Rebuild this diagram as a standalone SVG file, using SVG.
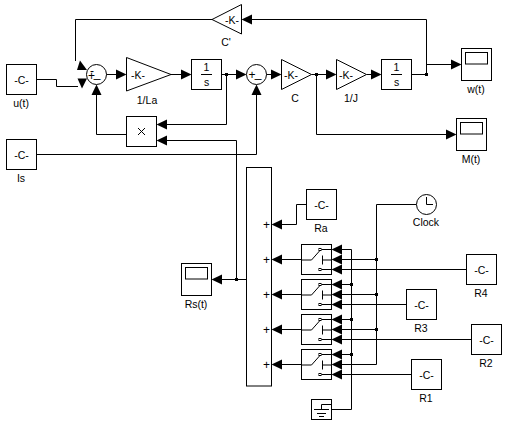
<svg xmlns="http://www.w3.org/2000/svg" width="518" height="424" viewBox="0 0 518 424">
<style>
.b{fill:#fff;stroke:#000;stroke-width:1}
.n{fill:none;stroke:#000;stroke-width:1}
.t{font-family:"Liberation Sans",Arial,sans-serif;font-size:10.500px;fill:#000;text-anchor:middle}
.s{font-size:12px}
.a{fill:#000;stroke:none}
</style>
<defs>
<path id="ar" class="a" d="M0.500 0L-10-5V5Z"/>
<path id="al" class="a" d="M-0.500 0L10-5V5Z"/>
<path id="au" class="a" d="M0 -0.500L-5 10H5Z"/>
<g id="scope"><rect class="b" x="0" y="0" width="30" height="32"/><rect class="n" x="4" y="4" width="22" height="11.500"/></g>
<g id="sw"><rect class="b" x="0" y="0" width="30" height="30"/><path class="n" d="M0 15.500H10L18 6.500M20 5H30M20 25H30M21 11V20M21 15.500H30"/><rect class="b" x="17.500" y="4" width="2" height="2"/><rect class="b" x="17.500" y="24" width="2" height="2"/></g>
</defs>
<g id="connectors" fill="none" stroke="#000">
<path class="n" d="M212 19.500H75.500V61"/>
<path class="n" d="M36.500 79.500H56.500V86.500H78"/>
<path class="n" d="M106 74.500H117M171 74.500H182M221.500 74.500H237M226.500 74.500V124.500H166"/>
<path class="n" d="M266 74.500H272M311.500 74.500H327M366.500 74.500H372M411.500 74.500H426.500M426.500 74.500V19.500H250M426.500 64.500H452"/>
<path class="n" d="M316.500 74.500V134.500H447"/>
<path class="n" d="M126.500 134.500H96.500V94"/>
<path class="n" d="M166 140.500H236.500V279.500"/>
<path class="n" d="M36.500 154.500H256.500V94"/>
<path class="n" d="M246.500 279.500H221"/>
<path class="n" d="M306.500 204.500H296.500V224.500H281"/>
<path class="n" d="M301.500 259.500H281M301.500 294.500H281M301.500 329.500H281M301.500 364.500H281"/>
<path class="n" d="M331.500 409.500H351.500V249.500H340M351.500 284.500H340M351.500 319.500H340M351.500 354.500H340"/>
<path class="n" d="M416.500 204.500H376.500V364.500H340M376.500 259.500H340M376.500 294.500H340M376.500 329.500H340"/>
<path class="n" d="M466.500 269.500H340M406.500 304.500H340M471.500 339.500H340M411.500 374.500H340"/>
<rect class="a" x="225" y="73" width="3" height="3"/><rect class="a" x="315" y="73" width="3" height="3"/><rect class="a" x="425" y="73" width="3" height="3"/>
<rect class="a" x="235" y="278" width="3" height="3"/>
<rect class="a" x="350" y="283" width="3" height="3"/><rect class="a" x="350" y="318" width="3" height="3"/><rect class="a" x="350" y="353" width="3" height="3"/>
<rect class="a" x="375" y="258" width="3" height="3"/><rect class="a" x="375" y="293" width="3" height="3"/><rect class="a" x="375" y="328" width="3" height="3"/>
<path class="a" d="M80 60.500L77 70H87Z"/>
<path class="a" d="M77.500 78.500H87L82 88.500Z"/>
<use href="#au" x="96.500" y="85"/>
<use href="#ar" x="126" y="74.500"/><use href="#ar" x="191" y="74.500"/><use href="#ar" x="246" y="74.500"/>
<use href="#al" x="157" y="124.500"/><use href="#al" x="157" y="140.500"/>
<use href="#au" x="256.500" y="85"/>
<use href="#ar" x="281" y="74.500"/><use href="#ar" x="336" y="74.500"/><use href="#ar" x="381" y="74.500"/>
<use href="#al" x="242" y="19.500"/>
<use href="#ar" x="461" y="64.500"/><use href="#ar" x="456" y="134.500"/>
<use href="#al" x="212" y="279.500"/>
<use href="#al" x="272" y="224.500"/><use href="#al" x="272" y="259.500"/><use href="#al" x="272" y="294.500"/><use href="#al" x="272" y="329.500"/><use href="#al" x="272" y="364.500"/>
<use href="#al" x="332" y="249.500"/><use href="#al" x="332" y="259.500"/><use href="#al" x="332" y="269.500"/>
<use href="#al" x="332" y="284.500"/><use href="#al" x="332" y="294.500"/><use href="#al" x="332" y="304.500"/>
<use href="#al" x="332" y="319.500"/><use href="#al" x="332" y="329.500"/><use href="#al" x="332" y="339.500"/>
<use href="#al" x="332" y="354.500"/><use href="#al" x="332" y="364.500"/><use href="#al" x="332" y="374.500"/>
</g>
<g id="ut"><rect class="b" x="6.500" y="64.500" width="30" height="30"/><text class="t" x="21.500" y="83.500">-C-</text><text class="t" x="21" y="107">u(t)</text></g>
<g id="is"><rect class="b" x="6.500" y="139.500" width="30" height="30"/><text class="t" x="21.500" y="158.500">-C-</text><text class="t" x="21" y="182">Is</text></g>
<g id="sum1"><circle class="b" cx="96.500" cy="74.500" r="10"/><text class="t s" x="92" y="75">-<tspan x="91.500" y="80">+</tspan><tspan x="97" y="77">_</tspan></text></g>
<g id="gain-la"><path class="b" d="M126.500 57.500V91L171 74.500Z"/><text class="t" x="138" y="78.500">-K-</text><text class="t" x="147" y="104">1/La</text></g>
<g id="int1"><rect class="b" x="191.500" y="59.500" width="30" height="30"/><path class="n" d="M201 74.500H212"/><text class="t" x="206.500" y="71">1</text><text class="t" x="206.500" y="86">s</text></g>
<g id="product"><rect class="b" x="126.500" y="116.500" width="30" height="30"/><path class="n" d="M138 128L145 135M145 128L138 135"/></g>
<g id="gain-c-prime"><path class="b" d="M241.500 4.500V34L212 19.500Z"/><text class="t" x="232" y="23.500">-K-</text><text class="t" x="226" y="46">C'</text></g>
<g id="sum2"><circle class="b" cx="256.500" cy="74.500" r="10"/><text class="t s" x="252" y="79">+<tspan x="258" y="77">_</tspan></text></g>
<g id="gain-c"><path class="b" d="M281.500 59.500V89.500L311.500 74.500Z"/><text class="t" x="291" y="78.500">-K-</text><text class="t" x="295" y="101.500">C</text></g>
<g id="gain-j"><path class="b" d="M336.500 59.500V89.500L366.500 74.500Z"/><text class="t" x="346" y="78.500">-K-</text><text class="t" x="351" y="101.500">1/J</text></g>
<g id="int2"><rect class="b" x="381.500" y="59.500" width="30" height="30"/><path class="n" d="M391 74.500H402"/><text class="t" x="396.500" y="71">1</text><text class="t" x="396.500" y="86">s</text></g>
<g id="w"><use href="#scope" x="461.500" y="48.500"/><text class="t" x="476" y="93">w(t)</text></g>
<g id="m"><use href="#scope" x="456.500" y="118.500"/><text class="t" x="471" y="163">M(t)</text></g>
<g id="rs"><use href="#scope" x="181.500" y="263.500"/><text class="t" x="196" y="308">Rs(t)</text></g>
<g id="bus"><rect class="b" x="246.500" y="167.500" width="25" height="218.500"/>
<text class="t s" x="266.500" y="228.500">+</text><text class="t s" x="266.500" y="263.500">+</text><text class="t s" x="266.500" y="298.500">+</text><text class="t s" x="266.500" y="333.500">+</text><text class="t s" x="266.500" y="368.500">+</text></g>
<g id="ra"><rect class="b" x="306.500" y="189.500" width="30" height="30"/><text class="t" x="321.500" y="208.500">-C-</text><text class="t" x="321" y="232">Ra</text></g>
<g id="s1"><use href="#sw" x="301.500" y="244.500"/></g>
<g id="s2"><use href="#sw" x="301.500" y="279.500"/></g>
<g id="s3"><use href="#sw" x="301.500" y="314.500"/></g>
<g id="s4"><use href="#sw" x="301.500" y="349.500"/></g>
<g id="ground"><rect class="b" x="311.500" y="399.500" width="20" height="20"/><path class="n" d="M331.500 404.500H321.500V409.500M314 409.500H329M317 413.500H326M319 416.500H324"/></g>
<g id="clock"><circle class="b" cx="426.500" cy="204.500" r="10"/><path class="n" d="M426.500 197V204.500H433"/><text class="t" x="426" y="226">Clock</text></g>
<g id="r4"><rect class="b" x="466.500" y="254.500" width="30" height="30"/><text class="t" x="481.500" y="273.500">-C-</text><text class="t" x="481" y="297">R4</text></g>
<g id="r3"><rect class="b" x="406.500" y="289.500" width="30" height="30"/><text class="t" x="421.500" y="308.500">-C-</text><text class="t" x="421" y="332">R3</text></g>
<g id="r2"><rect class="b" x="471.500" y="324.500" width="30" height="30"/><text class="t" x="486.500" y="343.500">-C-</text><text class="t" x="486" y="367">R2</text></g>
<g id="r1"><rect class="b" x="411.500" y="359.500" width="30" height="30"/><text class="t" x="426.500" y="378.500">-C-</text><text class="t" x="426" y="402">R1</text></g>
</svg>
